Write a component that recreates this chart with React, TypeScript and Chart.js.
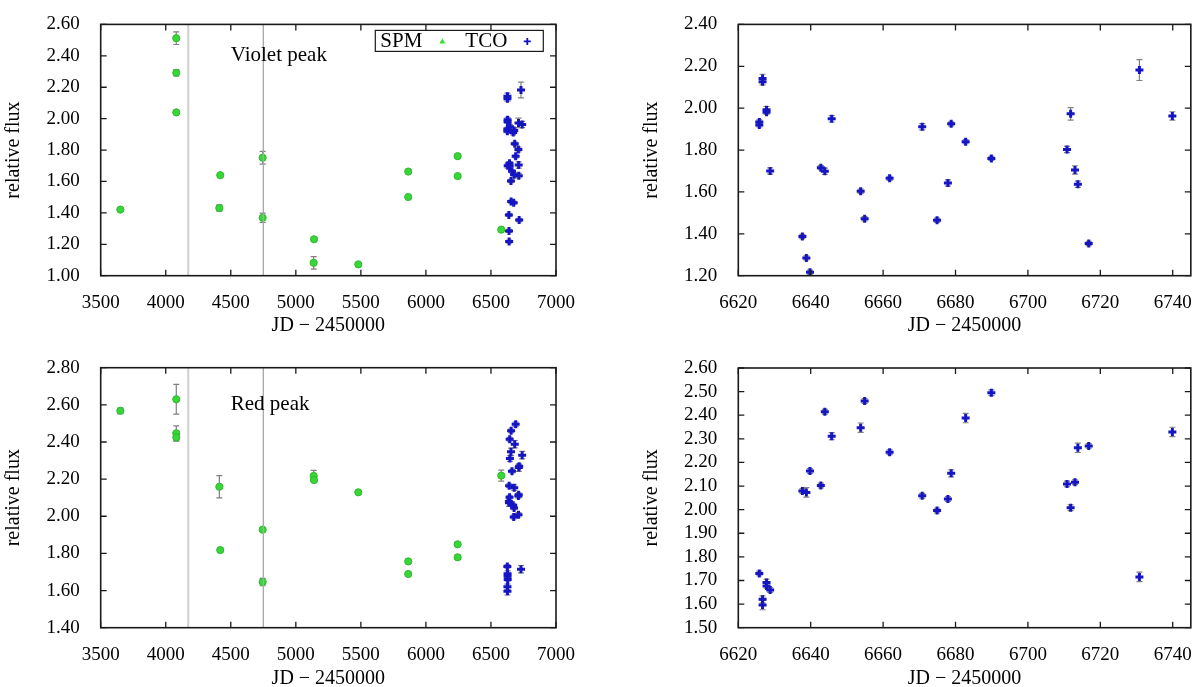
import React, { useEffect, useRef } from "react";
import { Chart, registerables } from "chart.js";

Chart.register(...registerables);

// ---------- data ----------
const spmDays = [3651, 4081, 4081, 4081, 4412, 4419, 4745, 4745, 5137, 5140, 5480, 5864, 5864, 6244, 6244, 6579];
const spmVioletFlux = [1.421, 2.512, 2.292, 2.04, 1.431, 1.64, 1.751, 1.369, 1.082, 1.232, 1.072, 1.663, 1.501, 1.761, 1.634, 1.293];
const spmVioletErr = [0.01, 0.04, 0.02, 0.01, 0.02, 0.01, 0.04, 0.03, 0.04, 0.01, 0.01, 0.01, 0.01, 0.01, 0.01, 0.01];
const spmRedFlux = [2.568, 2.63, 2.447, 2.425, 2.159, 1.818, 1.928, 1.646, 2.217, 2.195, 2.129, 1.757, 1.689, 1.849, 1.779, 2.219];
const spmRedErr = [0.015, 0.08, 0.04, 0.02, 0.06, 0.01, 0.01, 0.02, 0.03, 0.01, 0.01, 0.01, 0.01, 0.01, 0.01, 0.03];

const tcoVioletDays = [6625.8, 6625.8, 6626.7, 6626.7, 6627.8, 6627.8, 6628.8, 6637.7, 6638.8, 6639.8, 6642.8, 6643.9, 6645.8, 6653.8, 6654.9, 6661.8, 6670.8, 6674.9, 6677.9, 6678.8, 6682.8, 6689.9, 6710.8, 6711.8, 6713.0, 6713.8, 6716.8, 6730.8, 6739.9];
const tcoVioletFlux = [1.934, 1.92, 2.142, 2.126, 1.993, 1.98, 1.7, 1.387, 1.285, 1.217, 1.716, 1.699, 1.949, 1.603, 1.472, 1.665, 1.911, 1.465, 1.643, 1.925, 1.84, 1.76, 1.803, 1.973, 1.705, 1.637, 1.354, 2.182, 1.963];
const tcoVioletErr = [0.01, 0.01, 0.02, 0.015, 0.015, 0.01, 0.015, 0.01, 0.01, 0.01, 0.01, 0.015, 0.015, 0.01, 0.01, 0.01, 0.015, 0.01, 0.015, 0.01, 0.01, 0.01, 0.015, 0.03, 0.02, 0.015, 0.01, 0.05, 0.02];

const tcoRedDays = [6625.8, 6626.7, 6626.7, 6627.8, 6627.8, 6628.8, 6637.7, 6638.8, 6639.8, 6642.8, 6643.9, 6645.8, 6653.8, 6654.9, 6661.8, 6670.8, 6674.9, 6677.9, 6678.8, 6682.8, 6689.9, 6710.8, 6711.8, 6713.0, 6713.8, 6716.8, 6730.8, 6739.9];
const tcoRedFlux = [1.73, 1.62, 1.596, 1.691, 1.677, 1.66, 2.079, 2.073, 2.164, 2.102, 2.415, 2.311, 2.347, 2.46, 2.243, 2.059, 1.996, 2.045, 2.154, 2.388, 2.495, 2.109, 2.008, 2.116, 2.262, 2.27, 1.715, 2.329];
const tcoRedErr = [0.01, 0.015, 0.02, 0.015, 0.01, 0.01, 0.01, 0.02, 0.01, 0.01, 0.01, 0.015, 0.02, 0.01, 0.01, 0.01, 0.01, 0.01, 0.015, 0.02, 0.012, 0.012, 0.012, 0.01, 0.02, 0.01, 0.02, 0.02];

const markerDays = [4173, 4750];
const markerColors = ["#cfcfcf", "#a8a8a8"];

const FONT = "'Liberation Serif', 'Times New Roman', serif";

// ---------- plugins ----------
const errorBarPlugin = {
  id: "errorBars",
  beforeDatasetsDraw(chart: any) {
    const ctx = chart.ctx;
    const xs = chart.scales.x;
    const ys = chart.scales.y;
    ctx.save();
    ctx.strokeStyle = "#808080";
    ctx.lineWidth = 1.2;
    chart.data.datasets.forEach((ds: any) => {
      if (!ds.errors) return;
      ds.data.forEach((p: any, i: number) => {
        const e = ds.errors[i];
        const px = xs.getPixelForValue(p.x);
        const y1 = ys.getPixelForValue(p.y - e);
        const y2 = ys.getPixelForValue(p.y + e);
        ctx.beginPath();
        ctx.moveTo(px, y1);
        ctx.lineTo(px, y2);
        ctx.moveTo(px - 3, y1);
        ctx.lineTo(px + 3, y1);
        ctx.moveTo(px - 3, y2);
        ctx.lineTo(px + 3, y2);
        ctx.stroke();
      });
    });
    ctx.restore();
  },
};

const framePlugin = {
  id: "frame",
  afterDatasetsDraw(chart: any) {
    const ctx = chart.ctx;
    const { left, right, top, bottom } = chart.chartArea;
    const xs = chart.scales.x;
    const ys = chart.scales.y;
    const len = 6;
    ctx.save();
    ctx.strokeStyle = "#1a1a1a";
    ctx.lineWidth = 1.3;
    ctx.beginPath();
    xs.ticks.forEach((t: any) => {
      const px = xs.getPixelForValue(t.value);
      ctx.moveTo(px, bottom);
      ctx.lineTo(px, bottom - len);
      ctx.moveTo(px, top);
      ctx.lineTo(px, top + len);
    });
    ys.ticks.forEach((t: any) => {
      const py = ys.getPixelForValue(t.value);
      ctx.moveTo(left, py);
      ctx.lineTo(left + len, py);
      ctx.moveTo(right, py);
      ctx.lineTo(right - len, py);
    });
    ctx.stroke();
    ctx.lineWidth = 1.6;
    ctx.strokeRect(left, top, right - left, bottom - top);
    ctx.restore();
  },
};

const peakLabelPlugin = {
  id: "peakLabel",
  afterDraw(chart: any, _args: any, opts: any) {
    if (!opts || !opts.text) return;
    const ctx = chart.ctx;
    ctx.save();
    ctx.font = `21px ${FONT}`;
    ctx.fillStyle = "#000";
    ctx.textAlign = "left";
    ctx.textBaseline = "middle";
    ctx.fillText(opts.text, chart.scales.x.getPixelForValue(opts.x), chart.scales.y.getPixelForValue(opts.y));
    ctx.restore();
  },
};

const boxLegendPlugin = {
  id: "boxLegend",
  afterDraw(chart: any, _args: any, opts: any) {
    if (!opts || !opts.display) return;
    const ctx = chart.ctx;
    const { right, top } = chart.chartArea;
    const w = 168;
    const h = 21;
    const bx = right - 12.7 - w;
    const by = top + 6;
    ctx.save();
    ctx.fillStyle = "#fff";
    ctx.fillRect(bx, by, w, h);
    ctx.strokeStyle = "#1a1a1a";
    ctx.lineWidth = 1.2;
    ctx.strokeRect(bx, by, w, h);
    ctx.font = `21px ${FONT}`;
    ctx.fillStyle = "#000";
    ctx.textBaseline = "middle";
    ctx.textAlign = "left";
    const cy = by + h / 2 + 0.5;
    ctx.fillText("SPM", bx + 5, cy);
    ctx.fillText("TCO", bx + 90, cy);
    // green triangle
    const tx = bx + 67;
    ctx.fillStyle = "#33dd33";
    ctx.beginPath();
    ctx.moveTo(tx, cy - 3);
    ctx.lineTo(tx + 3, cy + 2);
    ctx.lineTo(tx - 3, cy + 2);
    ctx.closePath();
    ctx.fill();
    // blue plus
    const px = bx + 152;
    ctx.strokeStyle = "#1010cc";
    ctx.lineWidth = 1.8;
    ctx.beginPath();
    ctx.moveTo(px - 3.5, cy);
    ctx.lineTo(px + 3.5, cy);
    ctx.moveTo(px, cy - 3.5);
    ctx.lineTo(px, cy + 3.5);
    ctx.stroke();
    ctx.restore();
  },
};

// ---------- panel ----------
type PanelProps = {
  left: number;
  top: number;
  width: number;
  height: number;
  area: { l: number; t: number; r: number; b: number };
  xMin: number;
  xMax: number;
  xStep: number;
  yMin: number;
  yMax: number;
  yStep: number;
  spmFlux?: number[];
  spmErr?: number[];
  tcoDays: number[];
  tcoFlux: number[];
  tcoErr: number[];
  label?: string;
  labelX?: number;
  labelY?: number;
  legend?: boolean;
  yTitlePad: number;
  xTitlePad: number;
};

function Panel(p: PanelProps) {
  const ref = useRef<HTMLCanvasElement | null>(null);
  useEffect(() => {
    if (!ref.current) return;
    const datasets: any[] = [];
    if (p.spmFlux) {
      markerDays.forEach((d, i) => {
        datasets.push({
          type: "line",
          data: [
            { x: d, y: p.yMin },
            { x: d, y: p.yMax },
          ],
          borderColor: markerColors[i],
          borderWidth: i === 0 ? 2 : 1.3,
          pointRadius: 0,
          fill: false,
        });
      });
      datasets.push({
        type: "scatter",
        label: "SPM",
        data: spmDays.map((d, i) => ({ x: d, y: p.spmFlux![i] })),
        errors: p.spmErr,
        pointStyle: "circle",
        radius: 3.6,
        backgroundColor: "#38d638",
        borderColor: "#2fb82f",
        borderWidth: 1,
      });
    }
    datasets.push({
      type: "scatter",
      label: "TCO",
      data: p.tcoDays.map((d, i) => ({ x: d, y: p.tcoFlux[i] })),
      errors: p.tcoErr,
      pointStyle: "cross",
      radius: 4,
      borderColor: "#1515c4",
      backgroundColor: "#1515c4",
      borderWidth: 3,
    });

    const tickFont = { family: FONT, size: 19 };
    const chart = new Chart(ref.current, {
      type: "scatter",
      data: { datasets },
      options: {
        animation: false,
        responsive: false,
        events: [],
        layout: {
          padding: { left: 0, top: p.area.t, right: p.width - p.area.r, bottom: 0 },
        },
        plugins: {
          legend: { display: false },
          tooltip: { enabled: false },
          peakLabel: { text: p.label, x: p.labelX, y: p.labelY },
          boxLegend: { display: !!p.legend },
        } as any,
        scales: {
          x: {
            type: "linear",
            min: p.xMin,
            max: p.xMax,
            grid: { display: false },
            border: { display: false },
            ticks: {
              stepSize: p.xStep,
              includeBounds: false,
              font: tickFont,
              color: "#000",
              padding: 8,
              maxRotation: 0,
              autoSkip: false,
              callback: (v: any) => String(Math.round(Number(v))),
            },
            title: {
              display: true,
              text: "JD − 2450000",
              font: { family: FONT, size: 20, lineHeight: 1 },
              color: "#000",
              padding: { top: 0, bottom: p.xTitlePad },
            },
            afterFit: (s: any) => {
              s.height = p.height - p.area.b;
            },
          },
          y: {
            type: "linear",
            min: p.yMin,
            max: p.yMax,
            grid: { display: false },
            border: { display: false },
            ticks: {
              stepSize: p.yStep,
              includeBounds: false,
              font: tickFont,
              color: "#000",
              padding: 13,
              autoSkip: false,
              callback: (v: any) => Number(v).toFixed(2),
            },
            title: {
              display: true,
              text: "relative flux",
              font: { family: FONT, size: 20, lineHeight: 1 },
              color: "#000",
              padding: { top: p.yTitlePad, bottom: 0 },
            },
            afterFit: (s: any) => {
              s.width = p.area.l;
            },
          },
        },
      } as any,
      plugins: [errorBarPlugin, framePlugin, peakLabelPlugin, boxLegendPlugin],
    });
    return () => chart.destroy();
  }, []);
  return (
    <canvas
      ref={ref}
      width={p.width}
      height={p.height}
      style={{ position: "absolute", left: p.left, top: p.top, width: p.width, height: p.height }}
    />
  );
}

export default function App() {
  return (
    <div style={{ position: "absolute", left: 0, top: 0, width: 1200, height: 687, background: "#fff" }}>
      <Panel
        left={0}
        top={0}
        width={600}
        height={343}
        area={{ l: 100.7, t: 15.7, r: 556, b: 275.7 }}
        xMin={3500}
        xMax={7000}
        xStep={500}
        yMin={1.0}
        yMax={2.6}
        yStep={0.2}
        spmFlux={spmVioletFlux}
        spmErr={spmVioletErr}
        tcoDays={tcoVioletDays}
        tcoFlux={tcoVioletFlux}
        tcoErr={tcoVioletErr}
        label="Violet peak"
        labelX={4500}
        labelY={2.4}
        legend
        yTitlePad={4}
        xTitlePad={7}
      />
      <Panel
        left={600}
        top={0}
        width={600}
        height={343}
        area={{ l: 138.3, t: 15.7, r: 594, b: 275.7 }}
        xMin={6620}
        xMax={6745}
        xStep={20}
        yMin={1.2}
        yMax={2.4}
        yStep={0.2}
        tcoDays={tcoVioletDays}
        tcoFlux={tcoVioletFlux}
        tcoErr={tcoVioletErr}
        yTitlePad={42}
        xTitlePad={7}
      />
      <Panel
        left={0}
        top={343}
        width={600}
        height={344}
        area={{ l: 100.7, t: 24.7, r: 556, b: 284.7 }}
        xMin={3500}
        xMax={7000}
        xStep={500}
        yMin={1.4}
        yMax={2.8}
        yStep={0.2}
        spmFlux={spmRedFlux}
        spmErr={spmRedErr}
        tcoDays={tcoRedDays}
        tcoFlux={tcoRedFlux}
        tcoErr={tcoRedErr}
        label="Red peak"
        labelX={4500}
        labelY={2.6}
        yTitlePad={4}
        xTitlePad={-2}
      />
      <Panel
        left={600}
        top={343}
        width={600}
        height={344}
        area={{ l: 138.3, t: 25, r: 594, b: 284.7 }}
        xMin={6620}
        xMax={6745}
        xStep={20}
        yMin={1.5}
        yMax={2.6}
        yStep={0.1}
        tcoDays={tcoRedDays}
        tcoFlux={tcoRedFlux}
        tcoErr={tcoRedErr}
        yTitlePad={42}
        xTitlePad={-2}
      />
    </div>
  );
}
